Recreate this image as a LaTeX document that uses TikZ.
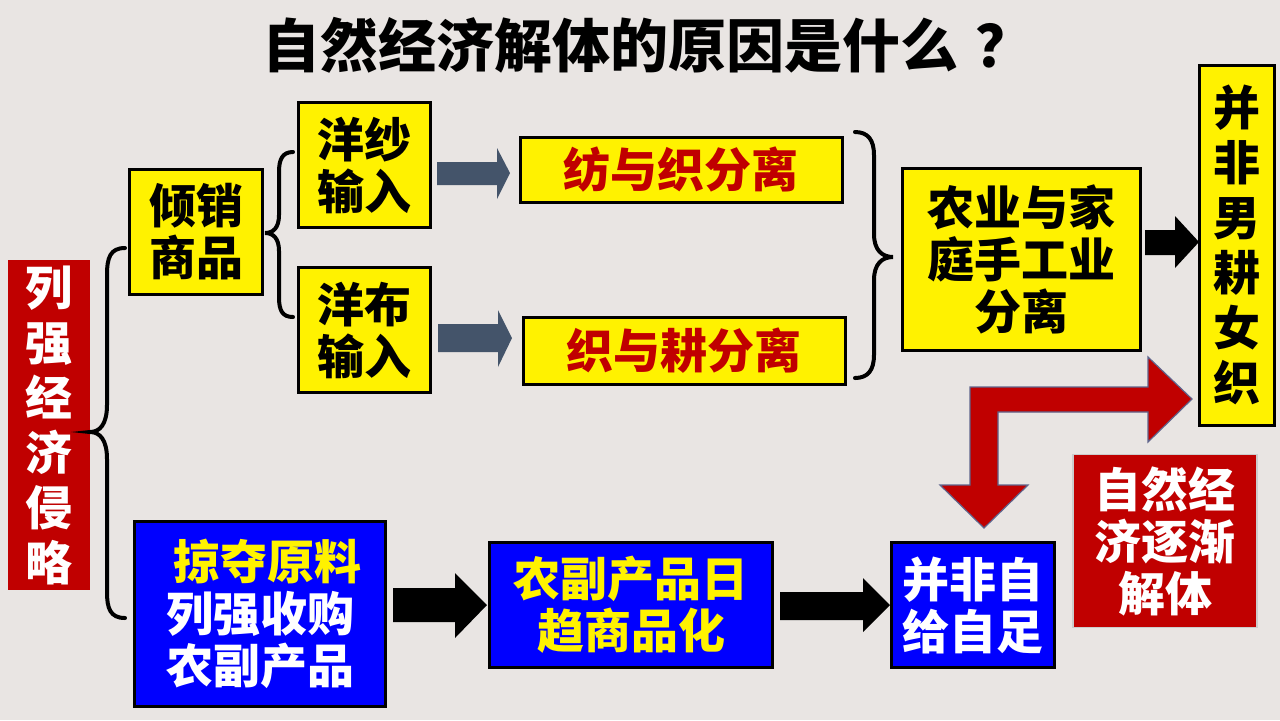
\documentclass[tikz,border=0pt]{standalone}
\usepackage{fontspec}
\setmainfont{Noto Sans CJK SC}
\definecolor{dred}{RGB}{192,0,0}
\definecolor{bgc}{RGB}{233,229,227}
\definecolor{slate}{RGB}{68,84,106}
\definecolor{rimc}{RGB}{95,100,140}
\newcommand{\bx}[7]{\node[#6, minimum width=#4*0.5pt, minimum height=#5*0.5pt] (#1) at (#2,#3) {#7};}
\begin{document}
\begin{tikzpicture}[x=0.5pt,y=-0.5pt,
  txt/.style={inner sep=0pt, align=center, font=\fontsize{23.5}{26}\selectfont\bfseries},
  ybox/.style={txt, draw=black, line width=1.5pt, fill=yellow},
  yrbox/.style={ybox, text=dred},
  bbox/.style={txt, draw=black, line width=1.5pt, fill=blue, text=white},
  rbox/.style={txt, fill=dred, text=white},
  vtxt/.style={font=\fontsize{23.5}{27.5}\selectfont\bfseries},
  brace/.style={draw=black, line width=2pt, line cap=round},
  garrow/.style={fill=slate},
  karrow/.style={fill=black},
  rarrow/.style={fill=dred, draw=rimc, line width=0.6pt, line join=miter}]
\useasboundingbox (0,0) rectangle (1280,720);
\fill[bgc] (0,0) rectangle (1280,720);

% title
\node[txt, font=\fontsize{29}{32}\selectfont\bfseries] (title) at (648,45) {自然经济解体的原因是什么\hspace{0.3em}？};

% boxes
\bx{qx}{196}{232}{133}{125}{ybox}{倾销\\商品}
\bx{ys}{364}{165}{132}{125}{ybox}{洋纱\\输入}
\bx{yb}{364}{330}{132}{125}{ybox}{洋布\\输入}
\bx{fz}{681}{170}{322}{65}{yrbox}{纺与织分离}
\bx{zg}{684}{351}{322}{67}{yrbox}{织与耕分离}
\bx{ny}{1021}{259}{238}{182}{ybox}{农业与家\\庭手工业\\分离}
\bx{bf}{1237}{245}{75}{360}{ybox, vtxt}{并\\非\\男\\耕\\女\\织}
\bx{lq}{49}{425}{82}{330}{rbox, vtxt}{列\\强\\经\\济\\侵\\略}
\bx{ld}{260}{614}{251}{185}{bbox}{\hspace{0.3em}\textcolor{yellow}{掠夺原料}\\列强收购\\农副产品}
\bx{nf}{631}{605}{283}{125}{bbox, text=yellow}{农副产品日\\趋商品化}
\bx{bz}{973}{605}{163}{125}{bbox}{并非自\\给自足}
\bx{zr}{1165}{541}{184}{173}{rbox, draw=gray!40, line width=0.6pt}{自然经\\济逐渐\\解体}

% braces
\draw[brace] (125,248) .. controls (110,248) and (107,258) .. (107,275) -- (107,405) .. controls (107,424) and (100,432) .. (90,432) .. controls (100,432) and (107,440) .. (107,459) -- (107,592) .. controls (107,608) and (110,618) .. (125,618);
\draw[brace] (293,152) .. controls (282,152) and (279,160) .. (279,172) -- (279,215) .. controls (279,228) and (273,233) .. (265,233) .. controls (273,233) and (279,238) .. (279,251) -- (279,297) .. controls (279,310) and (282,317) .. (293,317);
\draw[brace] (855,132) .. controls (868,132) and (874,140) .. (874,155) -- (874,234) .. controls (874,250) and (882,257) .. (893,257) .. controls (882,257) and (874,264) .. (874,280) -- (874,355) .. controls (874,370) and (868,378) .. (855,378);

% gray block arrows
\fill[garrow] (437,162) -- (497,162) -- (497,148) -- (510,173) -- (497,199) -- (497,185) -- (437,185) -- cycle;
\fill[garrow] (438,324) -- (498,324) -- (498,310) -- (512,338) -- (498,367) -- (498,352) -- (438,352) -- cycle;

% black block arrows
\fill[karrow] (1145,230) -- (1175,230) -- (1175,216) -- (1199,242) -- (1175,268) -- (1175,255) -- (1145,255) -- cycle;
\fill[karrow] (393,588) -- (455,588) -- (455,573) -- (487,605) -- (455,638) -- (455,622) -- (393,622) -- cycle;
\fill[karrow] (780,592) -- (863,592) -- (863,578) -- (890,605) -- (863,632) -- (863,620) -- (780,620) -- cycle;

% red bent arrow
\filldraw[rarrow] (970,387) -- (1148,387) -- (1148,357) -- (1192,399) -- (1148,442) -- (1148,412) -- (998,412) -- (998,485) -- (1028,485) -- (984,528) -- (940,485) -- (970,485) -- cycle;
\end{tikzpicture}
\end{document}
